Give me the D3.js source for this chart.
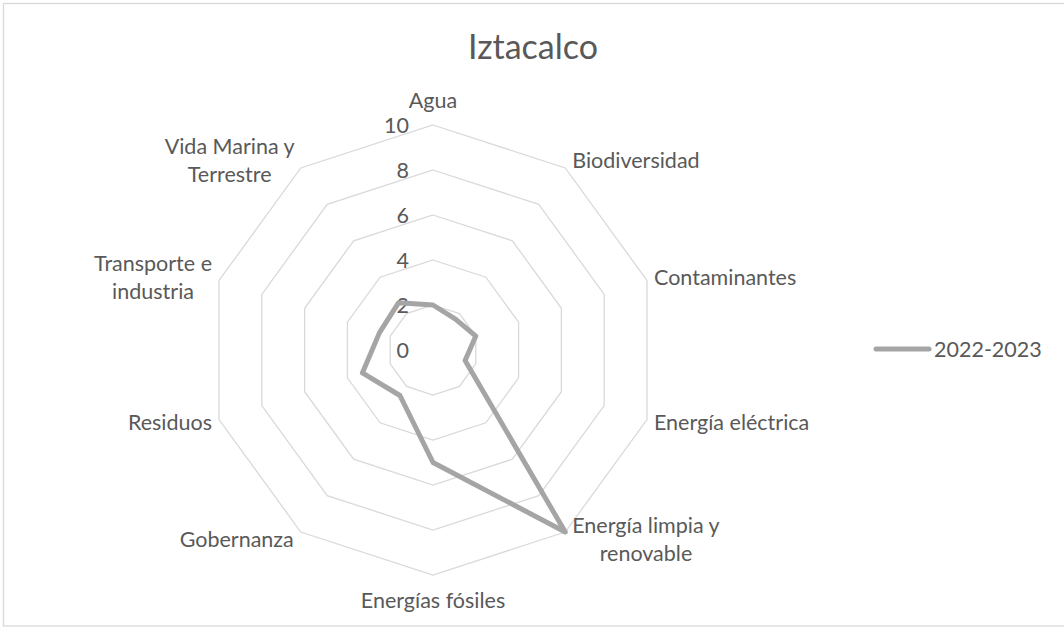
<!DOCTYPE html>
<html>
<head>
<meta charset="utf-8">
<script src="https://cdn.jsdelivr.net/npm/d3@7"></script>
<style>
  html, body { margin: 0; padding: 0; background: #fff; }
  svg { display: block; }
  text { font-family: Lato, "Open Sans", sans-serif; fill: #595959; }
</style>
</head>
<body>
<svg id="chart" width="1064" height="627"></svg>
<script>
const title = "Iztacalco";
const categories = [
  ["Agua"],
  ["Biodiversidad"],
  ["Contaminantes"],
  ["Energía eléctrica"],
  ["Energía limpia y", "renovable"],
  ["Energías fósiles"],
  ["Gobernanza"],
  ["Residuos"],
  ["Transporte e", "industria"],
  ["Vida Marina y", "Terrestre"]
];
const seriesName = "2022-2023";
const seriesValues = [2, 1.7, 2, 1.5, 10, 5, 2.5, 3.3, 2.5, 2.6];
const tickValues = [0, 2, 4, 6, 8, 10];

const W = 1064, H = 627;
const cx = 433, cy = 350, R = 225;
const labelSize = 21.5;
const svg = d3.select("#chart");

// border
svg.append("rect")
  .attr("x", 3.5).attr("y", 3.5).attr("width", W).attr("height", 622.5)
  .attr("fill", "#fff").attr("stroke", "#d9d9d9").attr("stroke-width", 1.3);

const r = d3.scaleLinear().domain([0, 10]).range([0, R]);
const n = categories.length;
const angle = d3.scalePoint().domain(d3.range(n + 1)).range([0, 2 * Math.PI]);
const pt = (i, v) => {
  const a = angle(i % n);
  return [cx + r(v) * Math.sin(a), cy - r(v) * Math.cos(a)];
};

const g = svg.append("g");

// grid rings
const ringLine = d3.line().curve(d3.curveLinearClosed);
tickValues.filter(t => t > 0).forEach(t => {
  g.append("path")
    .attr("d", ringLine(d3.range(n).map(i => pt(i, t))))
    .attr("fill", "none").attr("stroke", "#d9d9d9").attr("stroke-width", 1.3);
});

// tick labels
g.selectAll(".tick").data(tickValues).enter().append("text")
  .attr("x", cx - 24)
  .attr("y", d => cy - r(d))
  .attr("dy", "0.35em")
  .attr("text-anchor", "end")
  .attr("font-size", labelSize)
  .text(d => d);

// data line
g.append("path")
  .attr("d", ringLine(seriesValues.map((v, i) => pt(i, v))))
  .attr("fill", "none").attr("stroke", "#a5a5a5")
  .attr("stroke-width", 5).attr("stroke-linejoin", "round");

// category labels
const lineH = 27.5;
categories.forEach((lines, i) => {
  const a = angle(i);
  const [vx, vy] = pt(i, 10);
  const s = Math.sin(a), c = Math.cos(a);
  const t = g.append("text").attr("font-size", labelSize);
  const tsp = lines.map(l => t.append("tspan").text(l));
  const widths = tsp.map(ts => ts.node().getComputedTextLength());
  const wmax = d3.max(widths);
  let bx; // block center x
  if (Math.abs(s) < 0.1) bx = vx;
  else if (s > 0) bx = vx + 7 + wmax / 2;
  else bx = vx - 7 - wmax / 2;
  let by; // block center y
  if (Math.abs(s) < 0.1) by = vy - 25 * c;
  else by = vy - 9 * c;
  const top = by - (lines.length - 1) * lineH / 2;
  tsp.forEach((ts, k) => {
    ts.attr("x", bx).attr("y", top + k * lineH).attr("dy", "0.35em").attr("text-anchor", "middle");
  });
});

// title
svg.append("text")
  .attr("x", 533).attr("y", 47.5).attr("dy", "0.35em")
  .attr("text-anchor", "middle").attr("font-size", 34)
  .text(title);

// legend
const lg = svg.append("g");
lg.append("line")
  .attr("x1", 876).attr("x2", 929).attr("y1", 349).attr("y2", 349)
  .attr("stroke", "#a5a5a5").attr("stroke-width", 5).attr("stroke-linecap", "round");
lg.append("text")
  .attr("x", 934).attr("y", 349).attr("dy", "0.35em")
  .attr("font-size", labelSize)
  .text(seriesName);
</script>
</body>
</html>
